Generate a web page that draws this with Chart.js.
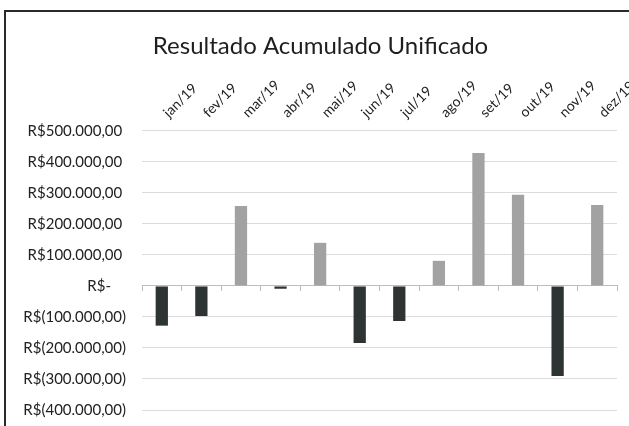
<!DOCTYPE html>
<html>
<head>
<meta charset="utf-8">
<script src="https://cdn.jsdelivr.net/npm/chart.js@4"></script>
<style>
  html, body { margin: 0; padding: 0; background: #fff; overflow: hidden; }
  #frame {
    position: absolute; left: 4px; top: 10px;
    width: 640px; height: 430px;
    border-top: 2px solid #2a2a2a; border-left: 2px solid #2a2a2a;
  }
  #box { position: absolute; left: 0; top: 0; width: 640px; height: 423px; }
</style>
</head>
<body>
<div id="frame"><div id="box"><canvas id="chart"></canvas></div></div>
<script>
const months = ['jan/19', 'fev/19', 'mar/19', 'abr/19', 'mai/19', 'jun/19',
                'jul/19', 'ago/19', 'set/19', 'out/19', 'nov/19', 'dez/19'];
const resultado = [-128000, -97000, 258000, -9000, 139000, -184000,
                   -113000, 81000, 429000, 294000, -290000, 261000];
const yTicks = [500000, 400000, 300000, 200000, 100000, 0,
                -100000, -200000, -300000, -400000, -500000];

const fontFam = 'Lato, "Open Sans", sans-serif';

// Excel accounting format: R$500.000,00 / R$(100.000,00) / R$-
function brl(v) {
    if (v === 0) return 'R$-\u2002\u2002';
    const s = Math.abs(v).toLocaleString('pt-BR', { minimumFractionDigits: 2, maximumFractionDigits: 2 });
    return v < 0 ? 'R$(' + s + ')' : 'R$' + s + '\u2005';
}

const ctx = document.getElementById('chart').getContext('2d');
const chart = new Chart(ctx, {
    type: 'bar',
    data: {
        labels: months,
        datasets: [{
            label: 'Resultado',
            data: resultado,
            xAxisID: 'x',
            backgroundColor: c => c.raw < 0 ? '#2e3333' : '#a2a2a2',
            borderWidth: 0,
            barPercentage: 0.31,
            categoryPercentage: 1
        }]
    },
    options: {
        responsive: true,
        maintainAspectRatio: false,
        animation: false,
        layout: { padding: { left: 18, right: 29, top: 0, bottom: 17 } },
        plugins: {
            legend: { display: false },
            tooltip: { enabled: false },
            title: {
                display: true,
                text: 'Resultado Acumulado Unificado',
                color: '#1e1e1e',
                font: { family: fontFam, size: 24, weight: 'normal' },
                padding: { top: 20, bottom: 14 }
            }
        },
        scales: {
            x: {
                position: 'top',
                grid: { display: false },
                border: { display: false },
                ticks: {
                    color: '#222',
                    font: { family: fontFam, size: 14 },
                    minRotation: 45, maxRotation: 45,
                    padding: 2, labelOffset: 16, autoSkip: false
                }
            },
            xZero: {
                type: 'category',
                position: { y: 0 },
                grid: { drawOnChartArea: false, drawTicks: true, tickLength: 5, color: '#bdbdbd' },
                border: { display: true, color: '#bdbdbd' },
                ticks: { display: false }
            },
            y: {
                min: -400000,
                max: 500000,
                afterBuildTicks: s => { s.ticks = yTicks.filter(v => v >= s.min && v <= s.max).map(v => ({ value: v })); },
                afterFit: s => { s.width = 118; },
                grid: { color: '#dcdcdc', drawTicks: false },
                border: { display: false },
                ticks: {
                    color: '#222',
                    font: { family: fontFam, size: 15 },
                    padding: 16,
                    callback: v => brl(v)
                }
            }
        }
    }
});
</script>
</body>
</html>
